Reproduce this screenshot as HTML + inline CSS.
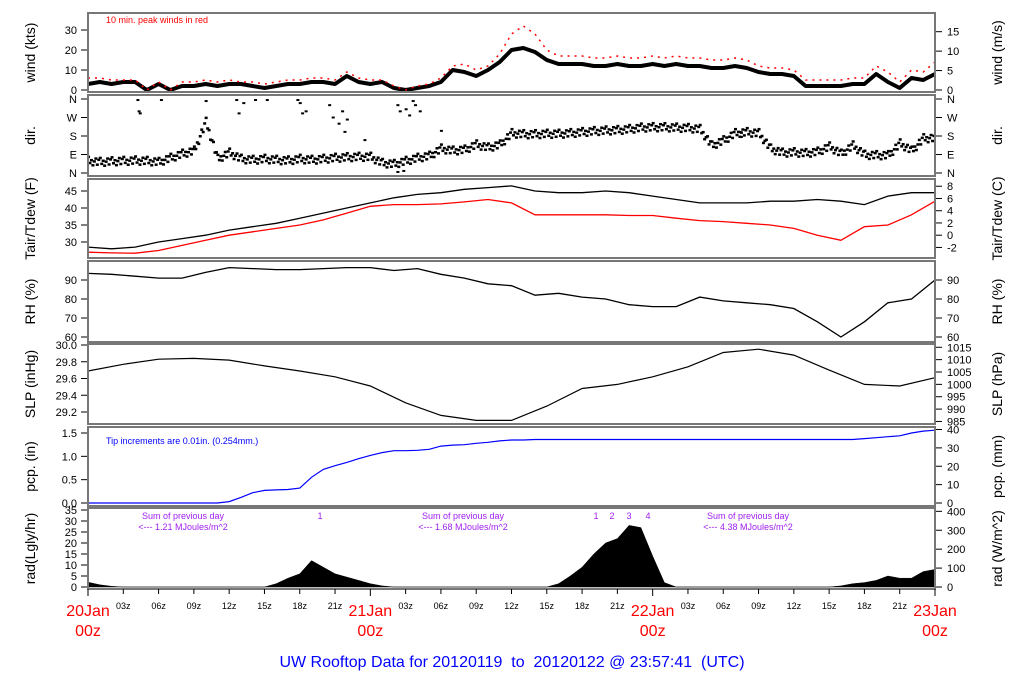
<!DOCTYPE html>
<html><head><meta charset="utf-8">
<style>
html,body{margin:0;padding:0;background:#fff;}
svg{display:block;font-family:"Liberation Sans",sans-serif;}
.pre{white-space:pre;}
</style></head>
<body>
<svg id="chart" width="1024" height="700" viewBox="0 0 1024 700" xmlns="http://www.w3.org/2000/svg" xml:space="preserve">
<rect x="0" y="0" width="1024" height="700" fill="#fff"/>
<text class="pre" x="512" y="667" text-anchor="middle" font-size="16" fill="#0000ff">UW Rooftop Data for 20120119  to  20120122 @ 23:57:41  (UTC)</text>
</svg>
<script>
// ===== data =====
const windKts = [3,4,3,4,4,0,3,0,2,2,3,2,3,3,2,1,2,3,3,4,4,3,7,4,
 3,4,1,0,1,2,4,10,9,7,10,14,20,21,19,15,13,13,13,12,12,13,12,12,
 13,12,13,12,12,11,11,12,11,9,8,8,7,2,2,2,2,3,3,8,4,1,6,5,8];
const gustKts = [6,6,5,5,5,0,4,0,4,4,5,4,5,4,4,3,4,5,5,6,6,5,9,6,
 5,5,2,0,2,3,6,12,13,10,12,18,28,32,28,20,17,17,17,16,16,17,16,16,
 17,16,17,16,16,15,15,16,15,12,11,11,10,5,5,5,5,6,6,12,9,4,10,9,14];
const dirDeg = [60,55,58,60,62,60,55,75,95,110,250,70,100,70,65,70,65,62,70,65,70,75,78,80,
 80,50,45,60,75,85,120,110,115,140,125,140,195,190,190,192,192,195,200,205,208,210,215,222,
 224,224,222,220,215,135,160,195,200,195,120,100,102,98,105,130,95,135,90,88,88,145,110,170,172];
const dirOutHour = [4.2,4.3,4.4,6.2,10.0,12.6,12.8,13.2,14.2,15.2,17.8,18.0,18.2,18.5,20.5,20.8,21.3,21.6,21.8,22,23.5,26.3,26.5,27.0,27.3,27.6,27.8,28.2,30.0,26.8,26.3,55.4,55.5];
const dirOutDeg = [355,300,290,355,350,355,290,340,355,355,355,340,290,300,330,270,240,300,200,260,160,330,300,310,280,350,330,300,205,10,5,200,175];
const tempStepHrs = 2;
const tairF = [28.5,28,28.5,30,31,32,33.5,34.5,35.5,37,38.5,40,41.5,43,44,44.5,45.5,46,46.5,45,44.5,44.5,45,44.5,43.5,42.5,41.5,41.5,41.5,42,42,42.5,42,41,43.5,44.5,44.5];
const tdewF = [27,26.8,26.7,27.5,29,30.5,32,33,34,35,36.5,38.5,40.5,41,41,41.2,41.8,42.5,41.5,38,38,38,38,37.8,37.8,37,36.3,36,35.5,35,34,32,30.5,34.5,35,38,42];
const rhPct = [93.5,93,92,91,91,94,96.5,96,95.5,95.5,96,96.5,96.5,95,96,93,91,88,87,82,83,81,80,77,76,76,81,79,78,77,75,68,60,68,78,80,90];
const slpStepHrs = 3;
const slpInHg = [29.69,29.77,29.83,29.84,29.82,29.75,29.69,29.62,29.51,29.31,29.16,29.10,29.10,29.27,29.48,29.53,29.62,29.74,29.91,29.95,29.88,29.70,29.53,29.51,29.61];
const pcpIn = [0,0,0,0,0,0,0,0,0,0,0,0,0.03,0.12,0.22,0.27,0.28,0.29,0.32,0.55,0.72,0.8,0.87,0.95,
 1.02,1.08,1.12,1.12,1.13,1.15,1.22,1.24,1.25,1.28,1.3,1.33,1.35,1.35,
 1.36,1.36,1.36,1.36,1.36,1.36,1.36,1.36,1.36,1.36,1.36,1.36,1.36,1.36,1.36,1.36,1.36,1.36,1.36,1.36,1.36,1.36,1.36,1.36,1.36,1.36,1.36,1.36,
 1.38,1.40,1.42,1.44,1.5,1.54,1.56];
const radLgly = [2.2,1,0.3,0,0,0,0,0,0,0,0,0,0,0,0,0,1.5,4,6,12,9,6,4.5,3,1.5,0.5,
 0,0,0,0,0,0,0,0,0,0,0,0,0,0,1.5,5,9,15,20,22,28,27,14,2,0,
 0,0,0,0,0,0,0,0,0,0,0,0,0,0.5,1.5,2,3,5,4,4,7,8];
const hourTickLabels = ["03z","06z","09z","12z","15z","18z","21z"];
const dayLabels = ["20Jan","21Jan","22Jan","23Jan"];
const windTicks = [0,10,20,30];
const windMsTicks = [0,5,10,15];
const dirTickDeg = [0,90,180,270,360];
const dirTickLabels = ["N","E","S","W","N"];
const tairTicks = [30,35,40,45];
const tcTicks = [-2,0,2,4,6,8];
const rhTicks = [60,70,80,90];
const slpTicks = [29.2,29.4,29.6,29.8,30.0];
const hpaTicks = [985,990,995,1000,1005,1010,1015];
const pcpTicks = [0,0.5,1.0,1.5];
const mmTicks = [0,10,20,30,40];
const radTicks = [0,5,10,15,20,25,30,35];
const wm2Ticks = [0,100,200,300,400];
const radSums = ["1.21","1.68","4.38"];

// ===== scales =====
const NS = "http://www.w3.org/2000/svg";
const svg = document.getElementById('chart');
const X0 = 88, X1 = 935, HOURS = 72;
const xH = h => X0 + (X1 - X0) * h / HOURS;
const yWind = v => 90 - 2 * v;
const yDir = d => 173 - d * 74 / 360;
const yTF = v => 242 - (v - 30) * 51 / 15;
const yRH = v => 280 - (v - 90) * 57 / 30;
const ySLP = v => 345 + (30 - v) * 83.75;
const yPcp = v => 503 - v * 70 / 1.5;
const yRad = v => 587 - v * 77 / 35;

function mk(tag, attrs, parent) {
  const e = document.createElementNS(NS, tag);
  for (const k in attrs) e.setAttribute(k, attrs[k]);
  (parent || svg).appendChild(e);
  return e;
}
function txt(str, x, y, size, fill, anchor, parent, rot) {
  const t = mk('text', {x: x, y: y, 'font-size': size, fill: fill, 'text-anchor': anchor || 'start'}, parent);
  if (rot) t.setAttribute('transform', 'rotate(-90 ' + x + ' ' + y + ')');
  t.textContent = str;
  return t;
}
function pathFrom(arr, step, yf) {
  return arr.map((v, i) => (i ? 'L' : 'M') + xH(i * step).toFixed(1) + ' ' + yf(v).toFixed(1)).join(' ');
}

const panels = [
  {name:'wind', top:13, bot:92, lt:'wind (kts)', rt:'wind (m/s)'},
  {name:'dir', top:95, bot:176, lt:'dir.', rt:'dir.'},
  {name:'temp', top:179, bot:258, lt:'Tair/Tdew (F)', rt:'Tair/Tdew (C)'},
  {name:'rh', top:261, bot:342, lt:'RH (%)', rt:'RH (%)'},
  {name:'slp', top:344, bot:424, lt:'SLP (inHg)', rt:'SLP (hPa)'},
  {name:'pcp', top:427, bot:506, lt:'pcp. (in)', rt:'pcp. (mm)'},
  {name:'rad', top:508, bot:589, lt:'rad(Lgly/hr)', rt:'rad (W/m^2)'}
];

panels.forEach(p => {
  const g = mk('g', {});
  
  
  p.g = g;
  const mid = (p.top + p.bot) / 2;
  const lt = txt(p.lt, 35, mid, 14, '#000', 'middle', g, true);
  
  
  const rt = txt(p.rt, 1002, mid, 14, '#000', 'middle', g, true);
  
  
});

function leftTicks(p, vals, yf, labels) {
  const g = mk('g', {}, p.g);
  
  
  vals.forEach((v, i) => {
    const y = yf(v);
    mk('line', {x1: 81, x2: 88, y1: y, y2: y, stroke: '#000', 'stroke-width': 1}, g);
    txt(labels ? labels[i] : String(v), 77, y + 4, 11, '#000', 'end', g);
  });
}
function rightTicks(p, vals, yf, labels) {
  const g = mk('g', {}, p.g);
  
  
  vals.forEach((v, i) => {
    const y = yf(v);
    mk('line', {x1: 935, x2: 942, y1: y, y2: y, stroke: '#000', 'stroke-width': 1}, g);
    txt(labels ? labels[i] : String(v), 947, y + 4, 11, '#000', 'start', g);
  });
}
const P = {}; panels.forEach(p => P[p.name] = p);

leftTicks(P.wind, windTicks, yWind);
rightTicks(P.wind, windMsTicks, v => yWind(v * 1.94384));
leftTicks(P.dir, dirTickDeg, yDir, dirTickLabels);
rightTicks(P.dir, dirTickDeg, yDir, dirTickLabels);
leftTicks(P.temp, tairTicks, yTF);
rightTicks(P.temp, tcTicks, v => yTF(v * 1.8 + 32));
leftTicks(P.rh, rhTicks, yRH);
rightTicks(P.rh, rhTicks, yRH);
leftTicks(P.slp, slpTicks, ySLP, slpTicks.map(v => v.toFixed(1)));
rightTicks(P.slp, hpaTicks, v => ySLP(v / 33.8639));
leftTicks(P.pcp, pcpTicks, yPcp, pcpTicks.map(v => v.toFixed(1)));
rightTicks(P.pcp, mmTicks, v => yPcp(v / 25.4));
leftTicks(P.rad, radTicks, yRad);
rightTicks(P.rad, wm2Ticks, v => yRad(v / 11.63));

// ===== series =====
const wg = P.wind.g;
const windLine = mk('path', {d: pathFrom(windKts, 1, yWind), fill: 'none', stroke: '#000', 'stroke-width': 4, 'stroke-linejoin': 'round'}, wg);


const gustLine = mk('path', {d: pathFrom(gustKts, 1, yWind), fill: 'none', stroke: '#ff0000', 'stroke-width': 1.5, 'stroke-dasharray': '2 5'}, wg);


const wnote = txt('10 min. peak winds in red', 106, 23, 9, '#ff0000', 'start', wg);



const dg = mk('g', {fill: '#000'}, P.dir.g);


const jit = [-4, 2, -1, 4, 0, -3, 3, -2];
for (let i = 0; i < dirDeg.length - 1; i++) {
  for (let k = 0; k < 8; k++) {
    const f = k / 8;
    const d = dirDeg[i] + (dirDeg[i + 1] - dirDeg[i]) * f;
    mk('rect', {x: xH(i + f) - 1, y: yDir(d) + jit[k] - 1, width: 3, height: 2.5}, dg);
  }
}
dirOutHour.forEach((h, i) => {
  mk('rect', {x: xH(h) - 1, y: yDir(dirOutDeg[i]) - 1, width: 3, height: 2}, dg);
});

const tl = mk('path', {d: pathFrom(tairF, tempStepHrs, yTF), fill: 'none', stroke: '#000', 'stroke-width': 1.3}, P.temp.g);


const dl = mk('path', {d: pathFrom(tdewF, tempStepHrs, yTF), fill: 'none', stroke: '#ff0000', 'stroke-width': 1.3}, P.temp.g);



const rl = mk('path', {d: pathFrom(rhPct, tempStepHrs, yRH), fill: 'none', stroke: '#000', 'stroke-width': 1.3}, P.rh.g);



const sl = mk('path', {d: pathFrom(slpInHg, slpStepHrs, ySLP), fill: 'none', stroke: '#000', 'stroke-width': 1.2}, P.slp.g);



const pl = mk('path', {d: pathFrom(pcpIn, 1, yPcp), fill: 'none', stroke: '#0000ff', 'stroke-width': 1.2}, P.pcp.g);


const pnote = txt('Tip increments are 0.01in. (0.254mm.)', 106, 444, 9, '#0000ff', 'start', P.pcp.g);



const ra = mk('path', {d: pathFrom(radLgly, 1, yRad) + ' L' + xH(72) + ' ' + yRad(0) + ' L' + xH(0) + ' ' + yRad(0) + ' Z', fill: '#000', stroke: '#000', 'stroke-width': 0.5}, P.rad.g);


const purple = '#a020f0';
const sumX = [183, 463, 748];
radSums.forEach((s, i) => {
  const a = txt('Sum of previous day', sumX[i], 519, 9, purple, 'middle', P.rad.g);
  
  
  const b = txt('<--- ' + s + ' MJoules/m^2', sumX[i], 530, 9, purple, 'middle', P.rad.g);
  
  
});
[[320, '1'], [596, '1'], [612, '2'], [629, '3'], [648, '4']].forEach(m => {
  const t = txt(m[1], m[0], 519, 9, purple, 'middle', P.rad.g);
  
  
});

panels.forEach(p => {
  const r = mk('rect', {x: X0, y: p.top, width: X1 - X0, height: p.bot - p.top, fill: 'none', stroke: '#777', 'stroke-width': 2}, p.g);
  
  
});

const xg = mk('g', {});


for (let h = 0; h <= 72; h += 3) {
  mk('line', {x1: xH(h), x2: xH(h), y1: 589, y2: h % 24 === 0 ? 596 : 594, stroke: '#000', 'stroke-width': 1}, xg);
  if (h % 24 !== 0) txt(hourTickLabels[(h % 24) / 3 - 1], xH(h), 609, 9, '#000', 'middle', xg);
}
dayLabels.forEach((d, i) => {
  txt(d, xH(i * 24), 616, 16, '#ff0000', 'middle', xg);
  txt('00z', xH(i * 24), 636, 16, '#ff0000', 'middle', xg);
});
</script>
</body></html>
